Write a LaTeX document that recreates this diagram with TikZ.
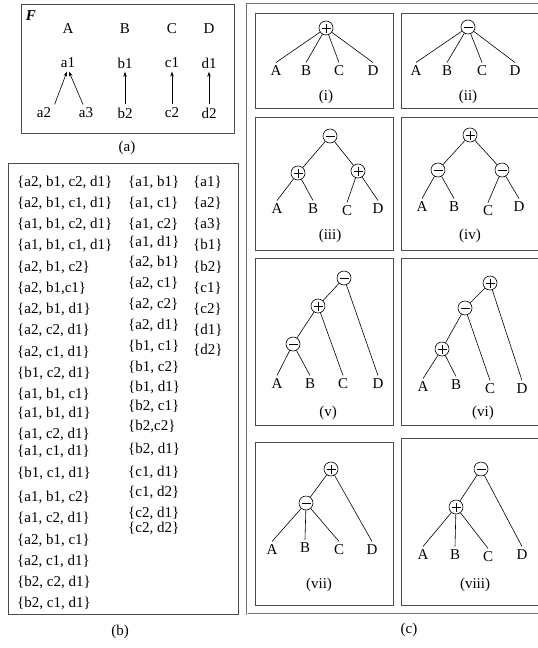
\documentclass[tikz,border=0pt]{standalone}
\usepackage{fontspec}
\setmainfont{Liberation Serif}
\usetikzlibrary{arrows.meta}
\tikzset{
  opnode/.style={circle, draw, minimum size=14pt, inner sep=0pt, line width=0.6pt},
  plusop/.style={opnode, path picture={
      \draw[line width=0.6pt] ([xshift=-4.5pt]path picture bounding box.center) -- ([xshift=4.5pt]path picture bounding box.center);
      \draw[line width=0.6pt] ([yshift=-4.5pt]path picture bounding box.center) -- ([yshift=4.5pt]path picture bounding box.center);}},
  minusop/.style={opnode, path picture={
      \draw[line width=0.6pt] ([xshift=-4.5pt]path picture bounding box.center) -- ([xshift=4.5pt]path picture bounding box.center);}},
  panelbox/.style={draw=black!70, line width=1pt},
  edge/.style={line width=0.6pt},
  arr/.style={line width=0.6pt, -{Stealth[length=5pt, width=3.5pt]}},
  setitem/.style={anchor=west, inner sep=0pt},
}
\begin{document}
\begin{tikzpicture}[x=1pt, y=-1pt, font=\fontsize{15}{17}\selectfont]
    \useasboundingbox (0, 0) rectangle (538, 648);
    \clip (0, 0) rectangle (538, 648);
    % panel (a)
    \draw[panelbox] (21, 4) rectangle (234, 133);
    \node (F) at (31, 16) {\textbf{\textit{F}}};
    \node (A) at (68, 29) {A};
    \node (B) at (125, 29) {B};
    \node (C) at (172, 29) {C};
    \node (D) at (209, 29) {D};
    \node (a1) at (68, 63) {a1};
    \node (b1) at (125, 63) {b1};
    \node (c1) at (172, 63) {c1};
    \node (d1) at (209, 63) {d1};
    \node (a2) at (44, 113) {a2};
    \node (a3) at (86, 113) {a3};
    \node (b2) at (125, 113) {b2};
    \node (c2) at (172, 113) {c2};
    \node (d2) at (209, 113) {d2};
    \draw[arr] (a2.north east) to ([xshift=-1pt]a1.south);
    \draw[arr] ([xshift=-3pt]a3.north) to ([xshift=1pt]a1.south);
    \draw[arr] (b2) to (b1);
    \draw[arr] (c2) to (c1);
    \draw[arr] (d2) to (d1);
    \node (la) at (127, 148) {(a)};
    % panel (b)
    \draw[panelbox] (8, 163) rectangle (238, 614);
    \foreach \y/\t [count=\i] in {182/{a2, b1, c2, d1}, 203/{a2, b1, c1, d1}, 224/{a1, b1, c2, d1}, 245/{a1, b1, c1, d1},
        267/{a2, b1, c2}, 288/{a2, b1,c1}, 309/{a2, b1, d1}, 330/{a2, c2, d1}, 352/{a2, c1, d1}, 373/{b1, c2, d1},
        394/{a1, b1, c1}, 413/{a1, b1, d1}, 434/{a1, c2, d1}, 451/{a1, c1, d1}, 473/{b1, c1, d1}, 497/{a1, b1, c2},
        518/{a1, c2, d1}, 540/{a2, b1, c1}, 561/{a2, c1, d1}, 582/{b2, c2, d1}, 603/{b2, c1, d1}}
        \node[setitem] (s\i) at (17, \y) {\{\t\}};
    \foreach \y/\t [count=\i] in {182/{a1, b1}, 203/{a1, c1}, 224/{a1, c2}, 242/{a1, d1}, 262/{a2, b1}, 283/{a2, c1},
        304/{a2, c2}, 325/{a2, d1}, 346/{b1, c1}, 367/{b1, c2}, 387/{b1, d1}, 406/{b2, c1}, 426/{b2,c2},
        449/{b2, d1}, 472/{c1, d1}, 492/{c1, d2}, 513/{c2, d1}, 528/{c2, d2}}
        \node[setitem] (t\i) at (128, \y) {\{\t\}};
    \foreach \y/\t [count=\i] in {182/a1, 203/a2, 224/a3, 245/b1, 267/b2, 288/c1, 309/c2, 330/d1, 350/d2}
        \node[setitem] (u\i) at (193, \y) {\{\t\}};
    \node (lb) at (120, 632) {(b)};
    % panel (c)
    \draw[draw=black!55, line width=0.5pt, double=white, double distance=0.8pt] (247, 4) rectangle (570, 614);
    \draw[panelbox] (255, 13) rectangle (393, 108);
    \draw[panelbox] (401, 13) rectangle (560, 108);
    \draw[panelbox] (255, 117) rectangle (393, 250);
    \draw[panelbox] (401, 117) rectangle (560, 250);
    \draw[panelbox] (255, 258) rectangle (393, 425);
    \draw[panelbox] (401, 258) rectangle (560, 425);
    \draw[panelbox] (255, 442) rectangle (393, 605);
    \draw[panelbox] (401, 438) rectangle (560, 605);
    % (i)
    \node[plusop] (r1) at (326, 28) {};
    \node (A1) at (276, 71) {A};
    \node (B1) at (306, 71) {B};
    \node (C1) at (339, 71) {C};
    \node (D1) at (373, 71) {D};
    \foreach \n in {A1, B1, C1, D1} \draw[edge] (r1) to (\n.north);
    \node (l1) at (326, 97) {(i)};
    % (ii)
    \node[minusop] (r2) at (468, 27) {};
    \node (A2) at (416, 71) {A};
    \node (B2) at (447, 71) {B};
    \node (C2) at (482, 71) {C};
    \node (D2) at (515, 71) {D};
    \foreach \n in {A2, B2, C2, D2} \draw[edge] (r2) to (\n.north);
    \node (l2) at (468, 97) {(ii)};
    % (iii)
    \node[minusop] (r3) at (330, 136) {};
    \node[plusop] (p3a) at (298, 173) {};
    \node[plusop] (p3b) at (358, 171) {};
    \node (A3) at (277, 209) {A};
    \node (B3) at (313, 209) {B};
    \node (C3) at (347, 211) {C};
    \node (D3) at (378, 209) {D};
    \draw[edge] (r3) to (p3a);
    \draw[edge] (r3) to (p3b);
    \draw[edge] (p3a) to (A3.north);
    \draw[edge] (p3a) to (B3.north);
    \draw[edge] (p3b) to (C3.north);
    \draw[edge] (p3b) to (D3.north);
    \node (l3) at (330, 236) {(iii)};
    % (iv)
    \node[plusop] (r4) at (470, 135) {};
    \node[minusop] (m4a) at (438, 170) {};
    \node[minusop] (m4b) at (502, 170) {};
    \node (A4) at (422, 207) {A};
    \node (B4) at (454, 207) {B};
    \node (C4) at (488, 211) {C};
    \node (D4) at (519, 207) {D};
    \draw[edge] (r4) to (m4a);
    \draw[edge] (r4) to (m4b);
    \draw[edge] (m4a) to (A4.north);
    \draw[edge] (m4a) to (B4.north);
    \draw[edge] (m4b) to (C4.north);
    \draw[edge] (m4b) to (D4.north);
    \node (l4) at (470, 236) {(iv)};
    % (v)
    \node[minusop] (r5) at (344, 278) {};
    \node[plusop] (p5) at (318, 306) {};
    \node[minusop] (m5) at (293, 344) {};
    \node (A5) at (277, 384) {A};
    \node (B5) at (310, 384) {B};
    \node (C5) at (343, 384) {C};
    \node (D5) at (378, 384) {D};
    \draw[edge] (r5) to (p5);
    \draw[edge] (r5) to (D5.north);
    \draw[edge] (p5) to (m5);
    \draw[edge] (p5) to (C5.north);
    \draw[edge] (m5) to (A5.north);
    \draw[edge] (m5) to (B5.north);
    \node (l5) at (328, 413) {(v)};
    % (vi)
    \node[plusop] (r6) at (490, 283) {};
    \node[minusop] (m6) at (465, 308) {};
    \node[plusop] (p6) at (442, 349) {};
    \node (A6) at (423, 387) {A};
    \node (B6) at (456, 385) {B};
    \node (C6) at (490, 389) {C};
    \node (D6) at (522, 389) {D};
    \draw[edge] (r6) to (m6);
    \draw[edge] (r6) to (D6.north);
    \draw[edge] (m6) to (p6);
    \draw[edge] (m6) to (C6.north);
    \draw[edge] (p6) to (A6.north);
    \draw[edge] (p6) to (B6.north);
    \node (l6) at (483, 413) {(vi)};
    % (vii)
    \node[plusop] (r7) at (331, 469) {};
    \node[minusop] (m7) at (306, 503) {};
    \node (A7) at (272, 550) {A};
    \node (B7) at (305, 548) {B};
    \node (C7) at (339, 550) {C};
    \node (D7) at (372, 550) {D};
    \draw[edge] (r7) to (m7);
    \draw[edge] (r7) to (D7.north);
    \foreach \n in {A7, B7, C7} \draw[edge] (m7) to (\n.north);
    \node (l7) at (319, 585) {(vii)};
    % (viii)
    \node[minusop] (r8) at (481, 469) {};
    \node[plusop] (p8) at (456, 507) {};
    \node (A8) at (423, 555) {A};
    \node (B8) at (455, 555) {B};
    \node (C8) at (488, 557) {C};
    \node (D8) at (522, 555) {D};
    \draw[edge] (r8) to (p8);
    \draw[edge] (r8) to (D8.north);
    \foreach \n in {A8, B8, C8} \draw[edge] (p8) to (\n.north);
    \node (l8) at (475, 585) {(viii)};
    \node (lc) at (409, 630) {(c)};
\end{tikzpicture}
\end{document}
